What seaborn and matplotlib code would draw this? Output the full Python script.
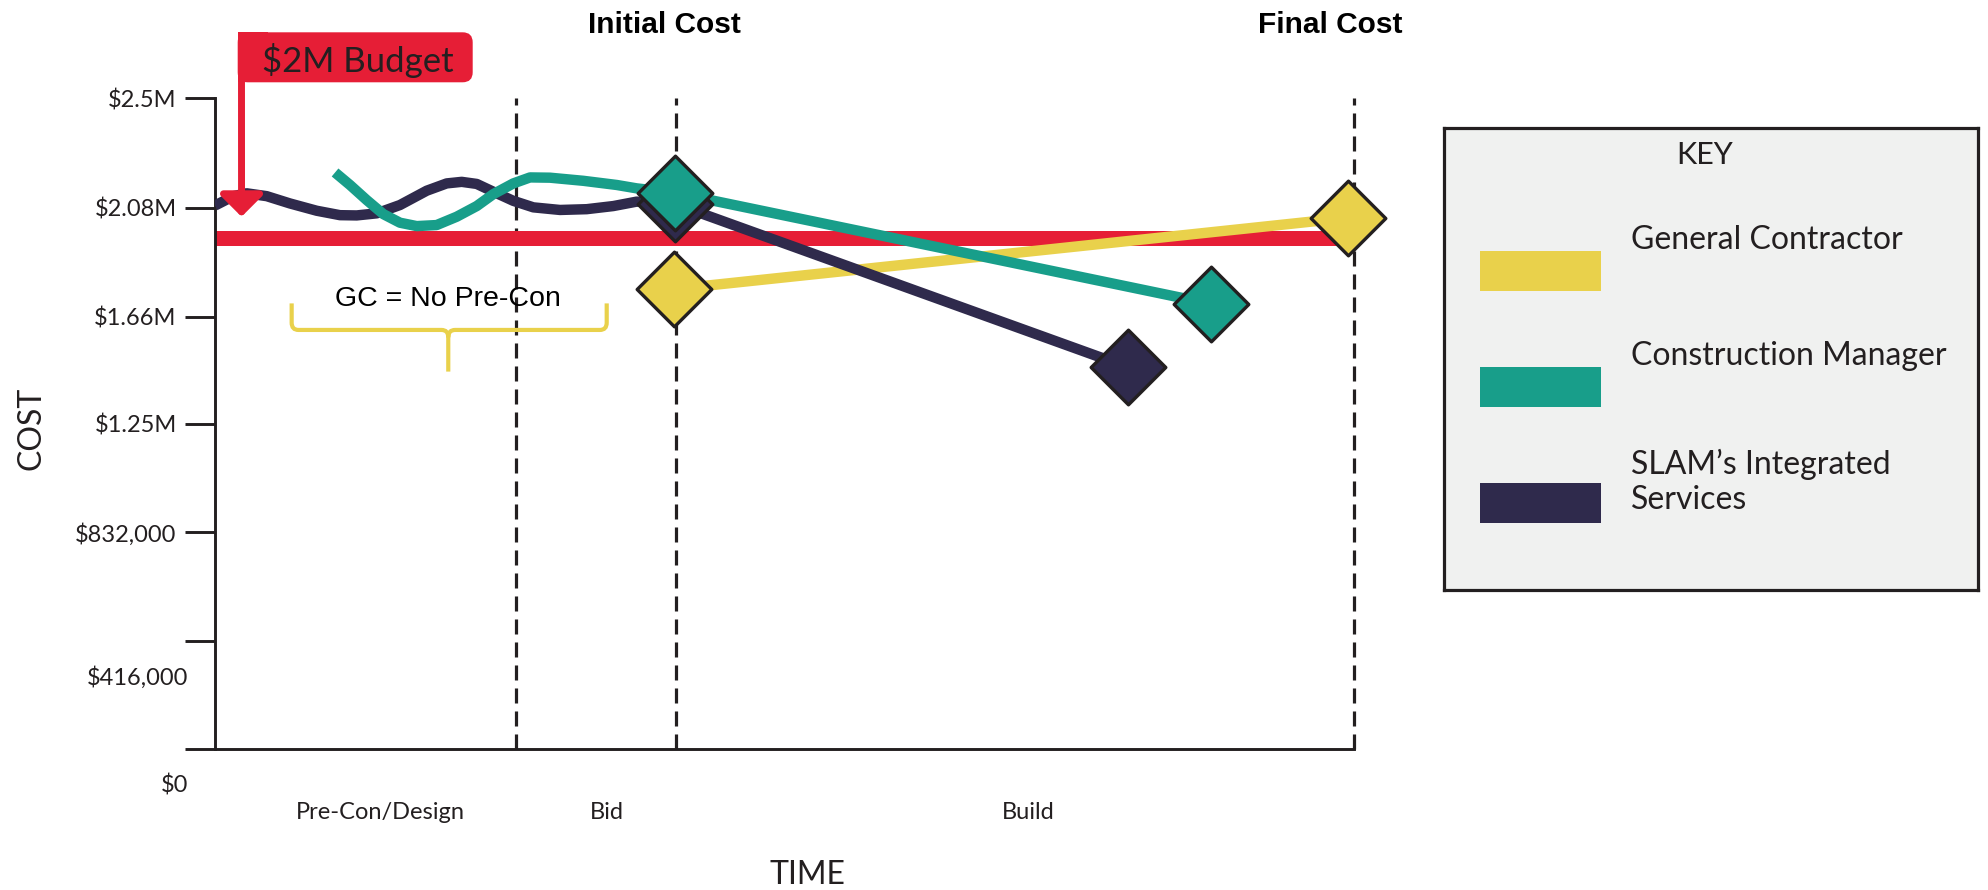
import matplotlib.pyplot as plt
import seaborn as sns
import numpy as np
from matplotlib.patches import Rectangle, FancyBboxPatch, PathPatch
from matplotlib.path import Path
from matplotlib.transforms import ScaledTranslation, blended_transform_factory

sns.set_style("white")
plt.rcParams['font.family'] = ['Lato', 'DejaVu Sans']

INK = '#231f20'
RED = '#e61e36'
YELLOW = '#e9d14b'
TEAL = '#189e8a'
NAVY = '#2f2a4c'
KEY_BG = '#f0f1f0'

# time runs 0 (start) .. 100 (final cost), arbitrary units
phase_edges = [26.4, 40.5, 100]
phase_names = ['Pre-Con/Design', 'Bid', 'Build']
phase_label_x = [14.5, 34.4, 71.4]
milestone_names = ['Initial Cost', 'Final Cost']
milestone_x = [39.5, 97.9]

cost_ticks = [0, 416000, 832000, 1250000, 1660000, 2080000, 2500000]
cost_labels = ['$0', '$416,000', '$832,000', '$1.25M', '$1.66M', '$2.08M', '$2.5M']
budget = 1965000

# pre-con wobble
slam_curve_x = [0.0, 1.61, 2.78, 4.54, 6.58, 8.93, 10.97, 12.44, 14.20, 16.24, 18.59,
                20.34, 21.66, 22.98, 24.44, 26.19, 27.95, 30.29, 32.63, 34.97, 37.02]
slam_curve_y = [2088000, 2124000, 2135000, 2124000, 2096000, 2068000, 2051000, 2050000,
                2058000, 2090000, 2145000, 2173000, 2179000, 2171000, 2141000, 2106000,
                2081000, 2071000, 2074000, 2086000, 2103000]
cm_curve_x = [10.54, 11.85, 13.32, 14.78, 16.24, 17.71, 19.46, 21.22, 22.98, 24.44,
              26.19, 27.66, 29.41, 32.34, 35.27, 37.02]
cm_curve_y = [2215000, 2167000, 2109000, 2055000, 2022000, 2009000, 2013000, 2045000,
              2086000, 2132000, 2173000, 2196000, 2195000, 2183000, 2167000, 2154000]

# initial (bid) and final cost points
gc_x = [40.3, 99.45]
gc_y = [1767000, 2041000]
cm_x = [40.4, 87.45]
cm_y = [2137000, 1710000]
slam_x = [40.4, 80.2]
slam_y = [2094000, 1466000]

key_labels = ['General Contractor', 'Construction Manager', 'SLAM\u2019s Integrated\nServices']
key_colors = [YELLOW, TEAL, NAVY]

fig = plt.figure(figsize=(19.88, 8.9), dpi=100)
ax = fig.add_axes([0.10815, 0.15843, 0.57294, 0.73112])
ax.set_xlim(0, 100)
ax.set_ylim(0, 2500000)

for x in phase_edges:
    ax.axvline(x, color=INK, lw=2.3, ls=(0, (4.7, 2.5)), zorder=1, clip_on=False)

ax.axhline(budget, color=RED, lw=10.8, solid_capstyle='butt', zorder=2)

line_kw = dict(lw=7.5, sort=False, estimator=None, legend=False, ax=ax,
               solid_capstyle='butt', solid_joinstyle='round')
sns.lineplot(x=gc_x, y=gc_y, color=YELLOW, zorder=3, **line_kw)
sns.lineplot(x=slam_curve_x + slam_x, y=slam_curve_y + slam_y, color=NAVY, zorder=4, **line_kw)
sns.lineplot(x=cm_curve_x + cm_x, y=cm_curve_y + cm_y, color=TEAL, zorder=5, **line_kw)

dia_kw = dict(marker='D', s=1444, edgecolor=INK, linewidth=2.4, legend=False, ax=ax, clip_on=False)
sns.scatterplot(x=slam_x, y=slam_y, color=NAVY, zorder=6, **dia_kw)
sns.scatterplot(x=cm_x, y=cm_y, color=TEAL, zorder=7, **dia_kw)
sns.scatterplot(x=gc_x, y=gc_y, color=YELLOW, zorder=8, **dia_kw)

# axes styling
sns.despine(ax=ax)
for side in ['left', 'bottom']:
    ax.spines[side].set_color(INK)
    ax.spines[side].set_linewidth(2.1)
ax.set_xticks([])
ax.set_yticks(cost_ticks, cost_labels)
ax.tick_params(axis='y', left=True, direction='out', length=21.6, width=2.1, pad=6,
               color=INK, labelcolor=INK, labelsize=17)
shift = ScaledTranslation(0.12, -0.35, fig.dpi_scale_trans)
for lab in ax.get_yticklabels()[:2]:
    lab.set_transform(lab.get_transform() + shift)

# phase names under the axis
trans = blended_transform_factory(ax.transData, ax.transAxes)
for name, x in zip(phase_names, phase_label_x):
    ax.text(x, -0.1076, name, transform=trans, ha='center', va='baseline',
            fontsize=17, color=INK)

# milestone headers
for name, x in zip(milestone_names, milestone_x):
    ax.text(x, 2751000, name, ha='center', va='baseline', fontsize=21.5,
            fontweight='bold', family=['Liberation Sans', 'DejaVu Sans'],
            color='black', clip_on=False)

fig.text(807 / 1988, 1 - 884 / 890, 'TIME', ha='center', va='baseline',
         fontsize=23, color=INK)
fig.text(41 / 1988, 1 - 428 / 890, 'COST', rotation=90, rotation_mode='anchor',
         ha='center', va='baseline', fontsize=23, color=INK)

# GC bracket
L, C, R = 6.73, 20.48, 34.39
top, H, bot = 1712000, 1610000, 1450000
rx, ry = 0.6, 28000
verts = [(L, top), (L, H + ry), (L, H), (L + rx, H), (C - rx, H), (C, H), (C, H - ry), (C, bot),
         (R, top), (R, H + ry), (R, H), (R - rx, H), (C + rx, H), (C, H), (C, H - ry)]
codes = [Path.MOVETO, Path.LINETO, Path.CURVE3, Path.CURVE3, Path.LINETO, Path.CURVE3,
         Path.CURVE3, Path.LINETO,
         Path.MOVETO, Path.LINETO, Path.CURVE3, Path.CURVE3, Path.LINETO, Path.CURVE3,
         Path.CURVE3]
ax.add_patch(PathPatch(Path(verts, codes), fc='none', ec=YELLOW, lw=3, zorder=3,
                       capstyle='butt'))
ax.text(C, 1702000, 'GC = No Pre-Con', ha='center', va='baseline', fontsize=20.5,
        family=['Liberation Sans', 'DejaVu Sans'], color='black')

# $2M budget flag
box = FancyBboxPatch((2.377, 8.077), 2.35, 0.5, boxstyle='round,pad=0,rounding_size=0.1',
                     transform=fig.dpi_scale_trans, fc=RED, ec='none')
fig.add_artist(box)
fig.add_artist(Rectangle((2.377, 8.077), 0.3, 0.5, transform=fig.dpi_scale_trans,
                         fc=RED, ec='none'))
fig.text(3.58, 8.177, '$2M Budget', transform=fig.dpi_scale_trans, ha='center',
         va='baseline', fontsize=25, color=INK)
ax.annotate('', xy=(2.33, 2045000), xycoords='data',
            xytext=(241.5, 890 - 80), textcoords='figure pixels',
            arrowprops=dict(arrowstyle='-|>,head_length=0.65,head_width=0.65', color=RED,
                            lw=5, shrinkA=0, shrinkB=0, mutation_scale=20),
            annotation_clip=False, zorder=9)

# key
kax = fig.add_axes([1444 / 1988, 1 - 590 / 890, 534 / 1988, 462 / 890])
kax.set_xlim(0, 534)
kax.set_ylim(462, 0)
kax.set_facecolor(KEY_BG)
kax.set_xticks([])
kax.set_yticks([])
for sp in kax.spines.values():
    sp.set_visible(True)
    sp.set_color(INK)
    sp.set_linewidth(2.3)
kax.text(260.5, 36, 'KEY', ha='center', va='baseline', fontsize=22, color=INK)
for i, (lab, col) in enumerate(zip(key_labels, key_colors)):
    row_top = 123 + 116 * i
    kax.add_patch(Rectangle((36, row_top), 121, 40, fc=col, ec='none'))
    nlines = lab.count('\n') + 1
    # baseline of the last line
    kax.text(186.6, row_top - 2 + 28 * (nlines - 1), lab, ha='left', va='baseline',
             fontsize=23, color=INK, linespacing=1.2)

plt.savefig('out.png', dpi=100)
